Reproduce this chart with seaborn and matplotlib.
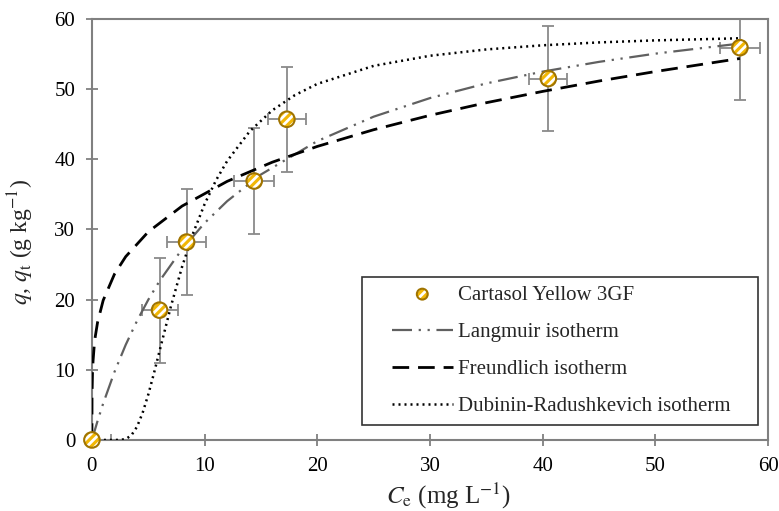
import matplotlib
matplotlib.use("Agg")
import matplotlib.pyplot as plt
import seaborn as sns
import pandas as pd
from matplotlib.legend_handler import HandlerTuple, HandlerLine2D
from matplotlib.lines import Line2D

# ---- data ----
ce_obs = [0.0, 6.0, 8.4, 14.4, 17.3, 40.5, 57.5]
q_obs = [0.0, 18.5, 28.2, 36.9, 45.7, 51.5, 55.9]
q_err = [0.0, 7.5, 7.5, 7.5, 7.5, 7.5, 7.5]
ce_err = [1.7, 1.6, 1.7, 1.8, 1.7, 1.7, 1.8]

lang_c = [0, 0.5, 1, 2, 3, 4, 5, 6, 8, 10, 12, 15, 20, 25, 30, 35, 40, 45, 50, 57.5]
lang_q = [0, 2.71, 5.21, 9.69, 13.57, 16.97, 19.98, 22.65, 27.19, 30.92, 34.03,
          37.83, 42.59, 46.07, 48.72, 50.81, 52.49, 53.88, 55.05, 56.49]

freu_c = [0, 0.01, 0.05, 0.1, 0.2, 0.3, 0.5, 1, 2, 3, 5, 8, 12, 16, 20, 25, 30,
          35, 40, 45, 50, 57.5]
freu_q = [0, 6.35, 9.47, 11.24, 13.35, 14.76, 16.76, 19.9, 23.63, 26.13, 29.66,
          33.33, 36.85, 39.58, 41.83, 44.21, 46.26, 48.06, 49.67, 51.15, 52.5, 54.36]

dr_c = [0, 1, 2, 2.5, 3, 3.5, 4, 4.5, 5, 5.5, 6, 7, 8, 9, 10, 11, 12, 14, 16, 18,
        20, 25, 30, 35, 40, 45, 50, 57.5]
dr_q = [0, 0, 0, 0.01, 0.13, 0.66, 1.88, 3.87, 6.47, 9.48, 12.67, 18.99, 24.68,
        29.55, 33.61, 36.97, 39.75, 43.98, 46.97, 49.13, 50.74, 53.31, 54.75,
        55.65, 56.24, 56.65, 56.94, 57.24]

labels = ["Cartasol Yellow 3GF", "Langmuir isotherm", "Freundlich isotherm",
          "Dubinin-Radushkevich isotherm"]
x_ticks = [0, 10, 20, 30, 40, 50, 60]
y_ticks = [0, 10, 20, 30, 40, 50, 60]

# ---- styling ----
sns.set_theme(style="white")
plt.rcParams["font.family"] = ["Liberation Serif", "DejaVu Serif"]
plt.rcParams["mathtext.fontset"] = "stix"
plt.rcParams["hatch.linewidth"] = 2.0

gold = "#F2B705"
gold_edge = "#A07400"
spine_col = "#808080"

fig = plt.figure(figsize=(7.79, 5.11), dpi=100)
ax = fig.add_axes([0.118, 0.139, 0.868, 0.824])

df_obs = pd.DataFrame({"Ce": ce_obs, "q": q_obs})
df_l = pd.DataFrame({"Ce": lang_c, "q": lang_q})
df_f = pd.DataFrame({"Ce": freu_c, "q": freu_q})
df_d = pd.DataFrame({"Ce": dr_c, "q": dr_q})

ax.errorbar(ce_obs, q_obs, yerr=q_err, xerr=ce_err, fmt="none",
            ecolor="#8a8a8a", elinewidth=1.3, capsize=4.5, capthick=1.3, zorder=2)

sns.lineplot(data=df_l, x="Ce", y="q", ax=ax, sort=False, color="#606060",
             linewidth=1.6, zorder=3)
l_lang = ax.lines[-1]
l_lang.set_dashes((9, 3, 1, 3, 1, 3))
sns.lineplot(data=df_f, x="Ce", y="q", ax=ax, sort=False, color="black",
             linewidth=2.0, zorder=3)
l_freu = ax.lines[-1]
l_freu.set_dashes((6, 3.2))
sns.lineplot(data=df_d, x="Ce", y="q", ax=ax, sort=False, color="black",
             linewidth=1.8, zorder=3)
l_dr = ax.lines[-1]
l_dr.set_dashes((0.8, 1.6))

sns.scatterplot(data=df_obs, x="Ce", y="q", ax=ax, s=125, color=gold,
                edgecolor="white", linewidth=0, zorder=4)
sc1 = ax.collections[-1]
sc1.set_hatch("////")
sc1.set_facecolor(gold)
sc1.set_edgecolor("white")
sns.scatterplot(data=df_obs, x="Ce", y="q", ax=ax, s=125, facecolor="none",
                edgecolor=gold_edge, linewidth=1.5, zorder=5)
sc2 = ax.collections[-1]
sc2.set_facecolor("none")
sc2.set_edgecolor(gold_edge)
sc1.set_clip_on(False)
sc2.set_clip_on(False)

ax.set_xlim(0, 60)
ax.set_ylim(0, 60)
ax.set_xticks(x_ticks)
ax.set_yticks(y_ticks)
ax.tick_params(axis="both", direction="inout", length=9, width=1.3,
               color=spine_col, labelsize=15, pad=7.5, labelcolor="black",
               bottom=True, left=True, top=False, right=False)
for s in ax.spines.values():
    s.set_visible(True)
    s.set_color(spine_col)
    s.set_linewidth(1.5)

ax.set_xlabel(r"$C_\mathrm{e}$ (mg L$^{-1}$)", fontsize=18)
ax.set_ylabel(r"$q$, $q_\mathrm{t}$ (g kg$^{-1}$)", fontsize=17)
ax.xaxis.set_label_coords(0.528, -0.098)
ax.yaxis.set_label_coords(-0.082, 0.47)

leg = ax.legend([(sc1, sc2), l_lang, l_freu, l_dr], labels,
                handler_map={tuple: HandlerTuple(ndivide=1, xpad=1.0),
                             Line2D: HandlerLine2D(xpad=1.0)},
                loc="lower left", bbox_to_anchor=(0.40, 0.036, 0.585, 0.35),
                mode="expand", fontsize=15, frameon=True, fancybox=False,
                handlelength=3.95, handletextpad=0.25, labelspacing=0.85,
                borderpad=0.4, markerscale=0.7, borderaxespad=0)
leg.get_frame().set_edgecolor("black")
leg.get_frame().set_linewidth(1.2)

fig.savefig("out.png", dpi=100)
